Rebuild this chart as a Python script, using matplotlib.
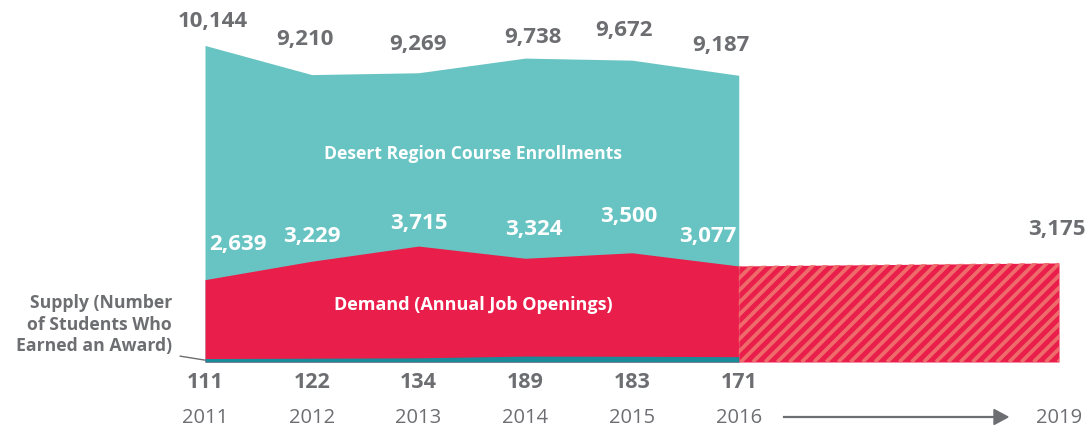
import numpy as np
import matplotlib.pyplot as plt
from matplotlib.patches import Polygon

years = [2011, 2012, 2013, 2014, 2015, 2016]
enrollments = [10144, 9210, 9269, 9738, 9672, 9187]
demand = [2639, 3229, 3715, 3324, 3500, 3077]
supply = [111, 122, 134, 189, 183, 171]
proj_years = [2016, 2019]
proj_demand = [3077, 3175]

# label nudges in pixels (dx, dy) from each data point
teal_off = [(8, 24), (-7, 35), (0, 28), (8, 21), (-8, 30), (-18, 30)]
red_off = [(33, 35), (0, 25), (0, 23), (9, 29), (-3, 36), (-31, 29)]

teal = "#68C4C2"
red = "#E91E4A"
stripe = "#EF6B6B"
blue = "#1B8A99"
gray = "#6D6E71"

plt.rcParams["font.family"] = ["Open Sans", "DejaVu Sans"]

fig = plt.figure(figsize=(10.89, 4.30), dpi=100)
ax = fig.add_axes([205 / 1089, 68 / 430, (1059 - 205) / 1089, 362 / 430])
ax.set_xlim(2011, 2019)
ax.set_ylim(0, 11600)
ax.axis("off")

ax.fill_between(years, 0, enrollments, color=teal, lw=0)
ax.fill_between(years, 0, demand, color=red, lw=0)

# projected demand, striped
ax.fill_between(proj_years, 0, proj_demand, color=red, lw=0)
clip = Polygon([(proj_years[0], 0), (proj_years[0], proj_demand[0]),
                (proj_years[1], proj_demand[1]), (proj_years[1], 0)],
               closed=True, transform=ax.transData, visible=False)
ax.add_patch(clip)
px_x = 854 / 8          # pixels per year
px_y = 362 / 11600      # pixels per unit
for off in np.arange(-120, 340, 12.2):
    x0 = proj_years[0] + off / px_x
    x1 = x0 + 110 / px_x
    ln, = ax.plot([x0, x1], [0, 110 / px_y], color=stripe, lw=2.7, solid_capstyle="butt")
    ln.set_clip_path(clip)

ax.fill_between(years, 0, supply, color=blue, lw=0)

big = dict(fontsize=16, fontweight="bold", ha="center", va="center")
for i, (x, e, d, s) in enumerate(zip(years, enrollments, demand, supply)):
    ax.annotate(f"{e:,}", (x, e), xytext=teal_off[i], textcoords="offset pixels", color=gray, **big)
    ax.annotate(f"{d:,}", (x, d), xytext=red_off[i], textcoords="offset pixels", color="white", **big)
    ax.annotate(f"{s:,}", (x, 0), xytext=(0, -21), textcoords="offset pixels", color=gray,
                fontsize=15.5, fontweight="bold", ha="center", va="center")
    ax.annotate(str(x), (x, 0), xytext=(0, -56), textcoords="offset pixels",
                color=gray, fontsize=14.5, ha="center", va="center")

ax.annotate(f"{proj_demand[-1]:,}", (proj_years[-1], proj_demand[-1]), xytext=(-2, 33),
            textcoords="offset pixels", color=gray, **big)
ax.annotate("2019", (2019, 0), xytext=(0, -56), textcoords="offset pixels",
            color=gray, fontsize=14.5, ha="center", va="center")

# arrow between 2016 and 2019 on the year row
fig.add_artist(plt.Line2D([784 / 1089, 998 / 1089], [13 / 430, 13 / 430], color=gray, lw=1.6))
fig.add_artist(Polygon([(994 / 1089, 20.5 / 430), (1008 / 1089, 13 / 430), (994 / 1089, 5.5 / 430)],
                       closed=True, color=gray, transform=fig.transFigure))

ax.text(2013.51, 6660, "Desert Region Course Enrollments", color="white",
        fontsize=12.6, fontweight="bold", ha="center", va="center")
ax.text(2013.51, 1830, "Demand (Annual Job Openings)", color="white",
        fontsize=13, fontweight="bold", ha="center", va="center")

fig.text(172 / 1089, 1 - 325 / 430, "Supply (Number\nof Students Who\nEarned an Award)",
         color=gray, fontsize=12.7, fontweight="bold", ha="right", va="center", linespacing=1.25)
ax.annotate("", xy=(2011, 60), xytext=(-25, 4), textcoords="offset pixels",
            arrowprops=dict(arrowstyle="-", color=gray, lw=1, shrinkA=0, shrinkB=0),
            annotation_clip=False)

fig.savefig("out.png", dpi=100)
